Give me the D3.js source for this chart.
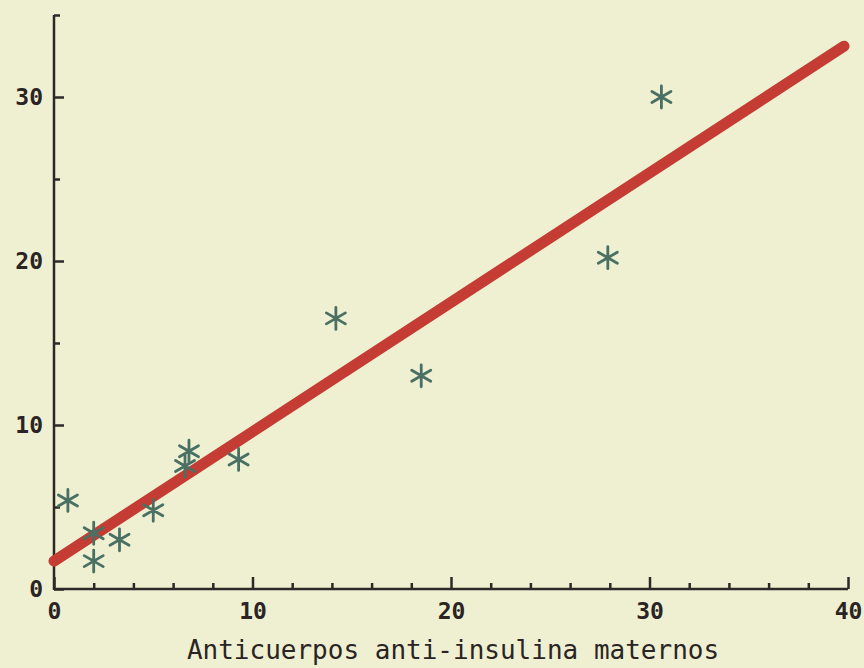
<!DOCTYPE html>
<html>
<head>
<meta charset="utf-8">
<script src="https://cdn.jsdelivr.net/npm/d3@7"></script>
<style>
  html, body { margin: 0; padding: 0; background: #eef0d1; }
  svg { display: block; }
  .tick text { font-family: "DejaVu Sans Mono", monospace; font-weight: bold; font-size: 23px; fill: #2b2424; }
</style>
</head>
<body>
<svg id="chart" width="864" height="668"></svg>
<script>
// anticuerpos maternos (x) vs valor del recien nacido (y)
var xVals = [0.7, 2.0, 2.0, 3.3, 5.0, 6.6, 6.8, 9.3, 14.2, 18.5, 27.9, 30.6];
var yVals = [5.4, 3.4, 1.7, 3.0, 4.8, 7.5, 8.4, 7.9, 16.5, 13.0, 20.2, 30.0];
// recta de regresion
var fitX = [0, 39.8];
var fitY = [1.7, 33.1];
var xMajor = [0, 10, 20, 30, 40];
var yMajor = [0, 10, 20, 30];

var W = 864, H = 668;
var m = {left: 54, right: 16, top: 15, bottom: 79};

var svg = d3.select("#chart");
svg.append("rect").attr("width", W).attr("height", H).attr("fill", "#eef0d1");

var x = d3.scaleLinear().domain([0, 40]).range([m.left, W - m.right]);
var y = d3.scaleLinear().domain([0, 35]).range([H - m.bottom, m.top]);

var axisColor = "#2f2828";

// minor ticks x (every 2)
var xMinor = d3.range(0, 41, 2).filter(d => d % 10 != 0);
var gx = svg.append("g").attr("transform", "translate(0," + y(0) + ")");
gx.call(d3.axisBottom(x).tickValues(xMinor).tickSizeInner(-6).tickSizeOuter(0).tickFormat(""));
gx.append("g").call(d3.axisBottom(x).tickValues(xMajor).tickSizeInner(-12).tickSizeOuter(0).tickPadding(14).tickFormat(d3.format("d")));
gx.selectAll("path.domain").remove();
gx.selectAll("line").attr("stroke", axisColor).attr("stroke-width", 2.5);
gx.append("line").attr("x1", x(0)).attr("x2", x(40))
  .attr("stroke", axisColor).attr("stroke-width", 2.5);

// y axis
var yMinor = [5, 15, 25, 35];
var gy = svg.append("g").attr("transform", "translate(" + x(0) + ",0)");
gy.call(d3.axisLeft(y).tickValues(yMinor).tickSizeInner(-6).tickSizeOuter(0).tickFormat(""));
gy.append("g").call(d3.axisLeft(y).tickValues(yMajor).tickSizeInner(-10).tickSizeOuter(0).tickPadding(11).tickFormat(d3.format("d")));
gy.selectAll("path.domain").remove();
gy.selectAll("line").attr("stroke", axisColor).attr("stroke-width", 2.5);
gy.append("line").attr("y1", y(0) + 1).attr("y2", y(35))
  .attr("stroke", axisColor).attr("stroke-width", 2.5);

// regression line
var line = d3.line().x(d => x(d[0])).y(d => y(d[1]));
svg.append("path")
  .datum(d3.zip(fitX, fitY))
  .attr("d", line)
  .attr("fill", "none")
  .attr("stroke", "#c43c33")
  .attr("stroke-width", 11)
  .attr("stroke-linecap", "round");

// asterisk markers
function asterisk(r) {
  var t = r / 2, u = t * Math.sqrt(3);
  var p = d3.path();
  p.moveTo(0, r); p.lineTo(0, -r);
  p.moveTo(-u, -t); p.lineTo(u, t);
  p.moveTo(-u, t); p.lineTo(u, -t);
  return p.toString();
}
svg.append("g").selectAll("path")
  .data(d3.zip(xVals, yVals))
  .join("path")
  .attr("transform", d => "translate(" + x(d[0]) + "," + y(d[1]) + ")")
  .attr("d", asterisk(11))
  .attr("fill", "none")
  .attr("stroke", "#4a7064")
  .attr("stroke-width", 2.8)
  .attr("stroke-linecap", "round");

// x title
svg.append("text")
  .attr("x", 453).attr("y", 659)
  .attr("text-anchor", "middle")
  .style("font-family", "'DejaVu Sans Mono', monospace")
  .style("font-size", "26px")
  .attr("fill", "#2b2424")
  .text("Anticuerpos anti-insulina maternos");
</script>
</body>
</html>
